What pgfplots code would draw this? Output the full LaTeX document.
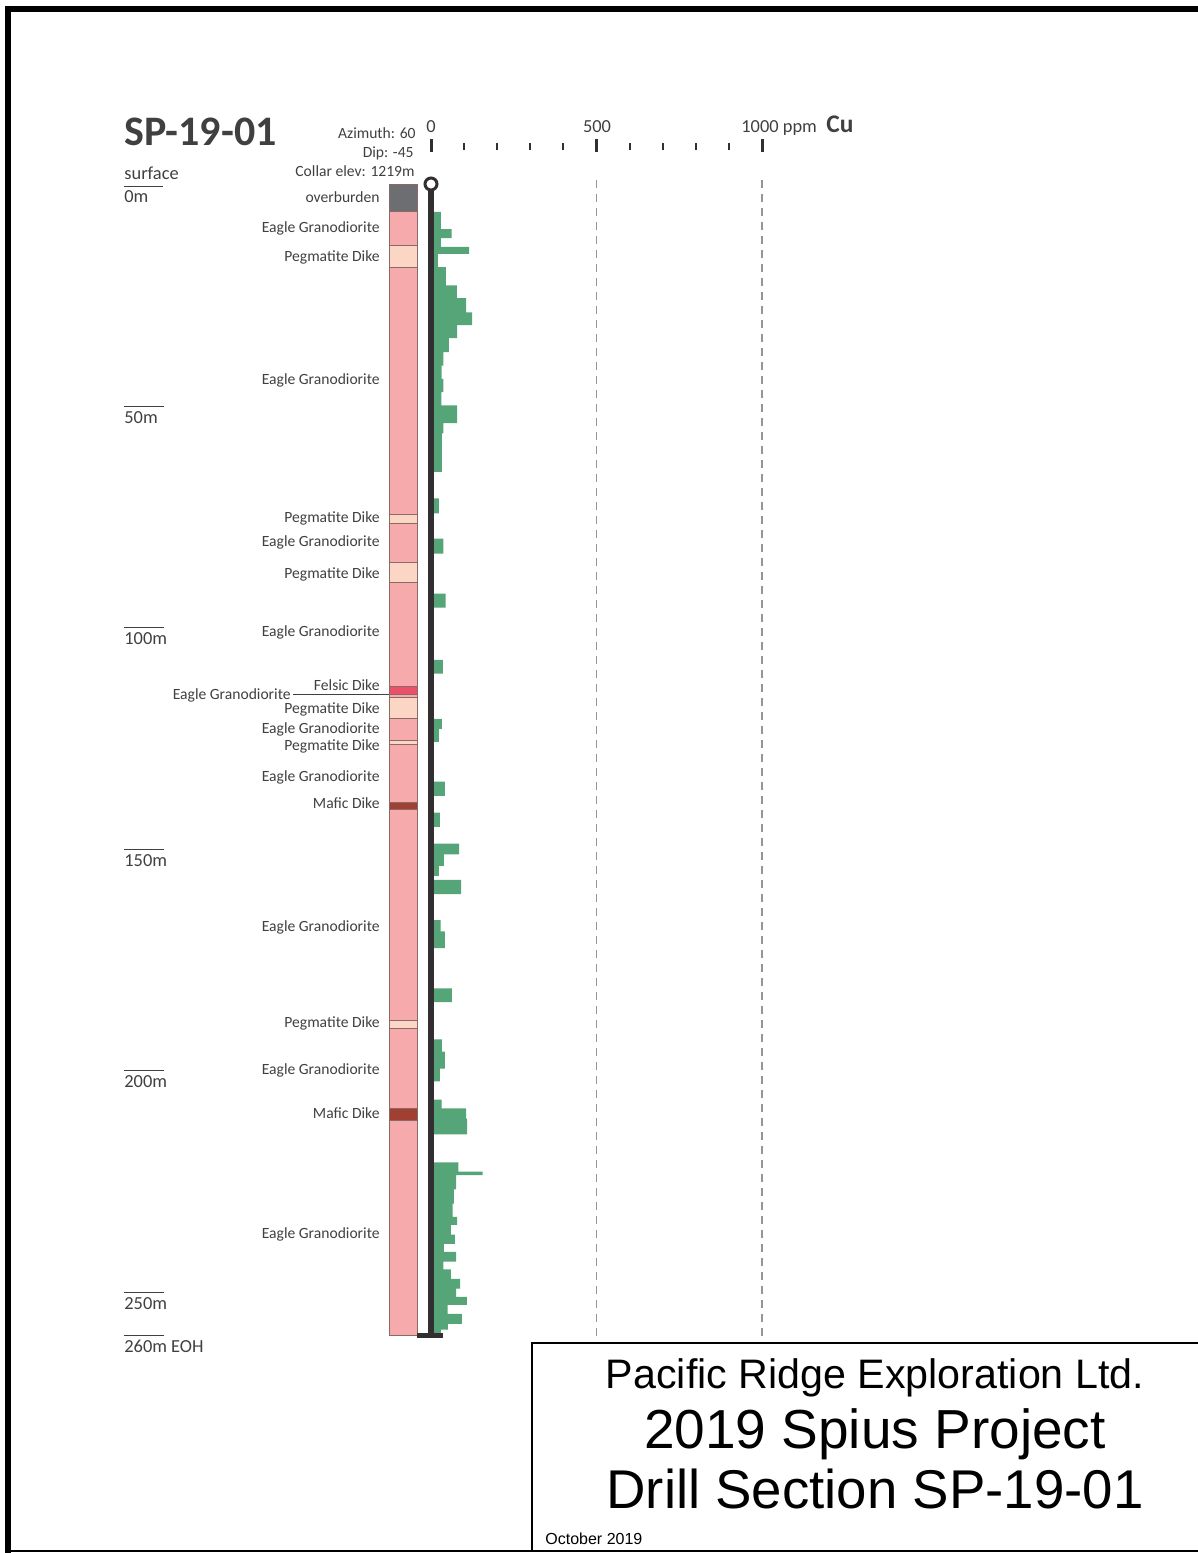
\documentclass[border=0pt]{standalone}
\usepackage{pgfplots}
\pgfplotsset{compat=1.18}
\usepackage{pgfplotstable}
\usepackage{fontspec}
\setmainfont{Carlito}
\newfontfamily\arialfont{Liberation Sans}

\definecolor{grano}{RGB}{246,170,172}
\definecolor{pegma}{RGB}{252,214,196}
\definecolor{overb}{RGB}{109,110,113}
\definecolor{felsic}{RGB}{234,80,106}
\definecolor{mafic}{RGB}{160,64,50}
\definecolor{cugreen}{RGB}{86,165,120}
\definecolor{holecol}{RGB}{51,47,48}
\definecolor{edgecol}{RGB}{140,105,105}
\definecolor{txtgray}{RGB}{64,64,64}
\definecolor{gridgray}{RGB}{150,150,150}

% Cu assays: interval top (m) and grade (ppm); last row closes the hole
\pgfplotstableread{
from cu
6.3 30
10.2 62
12.2 30
14.2 115
15.8 21
18.8 45
22.9 78
25.8 106
29.0 124
31.9 79
34.8 54
38.0 37
41.0 32
44.0 37
47.0 31
50.0 79
54.0 37
56.3 33
65.0 0
71.0 24
74.4 0
80.1 37
83.5 0
92.5 44
95.7 0
107.5 36
110.6 0
120.8 33
123.1 24
126.0 0
135.0 42
138.2 0
142.0 27
145.2 0
149.0 85
151.4 39
154.0 24
156.3 0
157.2 91
160.4 0
166.3 29
168.8 42
172.6 0
181.7 63
184.8 0
193.2 33
196.0 42
199.8 27
202.7 0
206.8 32
208.8 106
211.1 109
214.7 0
221.0 83
223.1 156
223.9 76
227.1 69
230.3 65
233.3 79
235.1 60
237.3 72
239.4 39
241.2 76
243.4 37
245.2 60
247.3 88
249.5 76
251.4 108
253.2 50
255.2 93
257.5 51
258.8 30
260.0 0
}\cudata

% one lithology interval of the log column: top, bottom, colour
\newcommand{\lithounit}[3]{%
  \addplot[fill=#3, draw=edgecol, line width=0.5pt]
    coordinates {(-126.9,#1) (-42.3,#1) (-42.3,#2) (-126.9,#2)} -- cycle;}

\begin{document}
\begin{tikzpicture}
\useasboundingbox (0,0) rectangle (599pt,-776.5pt);
\begin{axis}[
  at={(0pt,0pt)}, anchor=north west,
  scale only axis, width=599pt, height=776.5pt,
  xmin=-1302.1, xmax=2317.2,
  ymin=-41.564, ymax=309.25, y dir=reverse,
  hide axis, clip=false]

% grade reference lines
\addplot[gridgray, line width=0.75pt, dash pattern=on 4pt off 3pt] coordinates {(500,-0.9) (500,261.1)};
\addplot[gridgray, line width=0.75pt, dash pattern=on 4pt off 3pt] coordinates {(1000,-0.9) (1000,261.1)};

% lithology column
\lithounit{0}{6.3}{overb}
\lithounit{6.3}{14.0}{grano}
\lithounit{14.0}{18.8}{pegma}
\lithounit{18.8}{74.7}{grano}
\lithounit{74.7}{76.7}{pegma}
\lithounit{76.7}{85.5}{grano}
\lithounit{85.5}{90.0}{pegma}
\lithounit{90.0}{113.6}{grano}
\lithounit{113.6}{115.4}{felsic}
\lithounit{115.4}{116.1}{grano}
\lithounit{116.1}{120.8}{pegma}
\lithounit{120.8}{125.8}{grano}
\lithounit{125.8}{126.5}{pegma}
\lithounit{126.5}{139.8}{grano}
\lithounit{139.8}{141.4}{mafic}
\lithounit{141.4}{188.9}{grano}
\lithounit{188.9}{190.7}{pegma}
\lithounit{190.7}{208.8}{grano}
\lithounit{208.8}{211.5}{mafic}
\lithounit{211.5}{260}{grano}

% Cu histogram
\addplot[xbar interval, fill=cugreen, draw=none] table[x=cu, y=from] {\cudata};

% drill trace, end cap and collar
\addplot[holecol, line width=2.75pt] coordinates {(0,0) (0,260.2)};
\addplot[holecol, line width=2.5pt] coordinates {(-42.3,260.2) (36.3,260.2)};
\addplot[only marks, mark=*, mark size=3pt, mark options={fill=white, draw=holecol, line width=1.5pt}] coordinates {(0,0)};

% grade scale
\addplot[only marks, mark=|, mark size=3.25pt, mark options={line width=1.5pt, draw=holecol}] coordinates {(0,-8.7) (500,-8.7) (1000,-8.7)};
\addplot[only marks, mark=|, mark size=1.75pt, mark options={line width=1pt, draw=holecol}] coordinates {(100,-8.47) (200,-8.47) (300,-8.47) (400,-8.47) (600,-8.47) (700,-8.47) (800,-8.47) (900,-8.47)};
\end{axis}

\begin{scope}[x=0.5pt, y=-0.5pt]
\tikzset{
  lbl/.style={font=\fontsize{7.8}{9}\selectfont, text=txtgray, inner sep=0pt, anchor=mid east},
  dep/.style={font=\fontsize{9.2}{11}\selectfont, text=txtgray, inner sep=0pt, anchor=mid west},
  tck/.style={font=\fontsize{9.2}{11}\selectfont, text=txtgray, inner sep=0pt, anchor=base}}
% frame
\draw[line width=3pt] (8,1553) -- (8,9) -- (1198,9);
\draw[line width=1pt] (8,1551) -- (1198,1551);
\draw[line width=1pt] (532,1551) -- (532,1343) -- (1198,1343);

% header
\node[font=\bfseries\fontsize{21}{24}\selectfont, text=txtgray, inner sep=0pt, anchor=west] at (124,132) {SP-19-01};
\node[lbl] at (416,134) {Azimuth: 60};
\node[lbl] at (414,153) {Dip: -45};
\node[lbl] at (415,172) {Collar elev: 1219m};
\node[tck] at (431,132) {0};
\node[tck] at (597,132) {500};
\node[tck, anchor=base west] at (741,132) {1000 ppm};
\node[font=\bfseries\fontsize{12.7}{14}\selectfont, text=txtgray, inner sep=0pt, anchor=base west] at (826,132) {Cu};

% depth scale
\node[dep] at (124,175) {surface};
\draw[txtgray, line width=0.5pt] (124,186) -- (163,186);
\node[dep] at (124,198) {0m};
\foreach \yy/\tt in {406/50m, 627/100m, 849/150m, 1070/200m, 1292/250m, 1335/260m EOH} {
  \draw[txtgray, line width=0.5pt] (124,\yy) -- (164,\yy);
  \node[dep] at (124,\yy+13) {\tt};
}

% lithology labels
\node[lbl] at (380,198) {overburden};
\node[lbl] at (380,228) {Eagle Granodiorite};
\node[lbl] at (380,257) {Pegmatite Dike};
\node[lbl] at (380,380) {Eagle Granodiorite};
\node[lbl] at (380,518) {Pegmatite Dike};
\node[lbl] at (380,542) {Eagle Granodiorite};
\node[lbl] at (380,574) {Pegmatite Dike};
\node[lbl] at (380,632) {Eagle Granodiorite};
\node[lbl] at (380,686) {Felsic Dike};
\node[lbl] at (291,695) {Eagle Granodiorite};
\draw[txtgray, line width=0.5pt] (293,694) -- (389,694);
\node[lbl] at (380,709) {Pegmatite Dike};
\node[lbl] at (380,729) {Eagle Granodiorite};
\node[lbl] at (380,746) {Pegmatite Dike};
\node[lbl] at (380,777) {Eagle Granodiorite};
\node[lbl] at (380,804) {Mafic Dike};
\node[lbl] at (380,927) {Eagle Granodiorite};
\node[lbl] at (380,1023) {Pegmatite Dike};
\node[lbl] at (380,1070) {Eagle Granodiorite};
\node[lbl] at (380,1114) {Mafic Dike};
\node[lbl] at (380,1234) {Eagle Granodiorite};

% title block
\node[font=\arialfont\fontsize{20.6}{24}\selectfont, inner sep=0pt, anchor=base] at (875,1388) {Pacific Ridge Exploration Ltd.};
\node[font=\arialfont\fontsize{27.5}{32}\selectfont, inner sep=0pt, anchor=base] at (875,1448) {2019 Spius Project};
\node[font=\arialfont\fontsize{27.3}{32}\selectfont, inner sep=0pt, anchor=base] at (875,1508) {Drill Section SP-19-01};
\node[font=\arialfont\fontsize{8}{10}\selectfont, inner sep=0pt, anchor=base west] at (545,1544) {October 2019};
\end{scope}
\end{tikzpicture}
\end{document}
